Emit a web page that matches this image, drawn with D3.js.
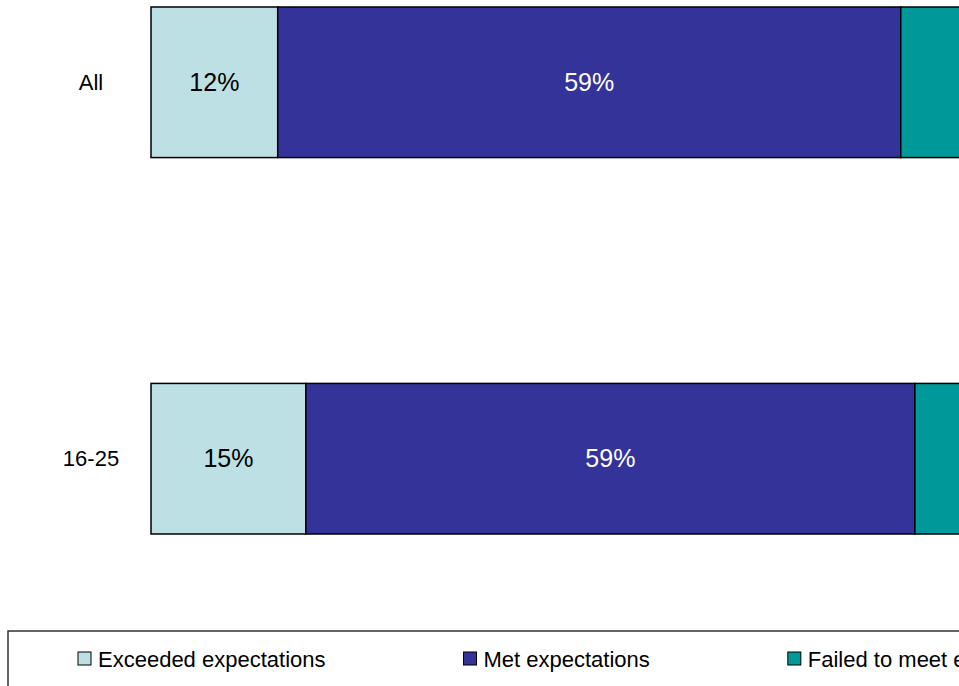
<!DOCTYPE html>
<html>
<head>
<meta charset="utf-8">
<script src="https://cdn.jsdelivr.net/npm/d3@7/dist/d3.min.js"></script>
<style>
  body { margin: 0; background: #fff; }
  svg { display: block; font-family: "Liberation Sans", Arial, sans-serif; }
</style>
</head>
<body>
<div id="chart"></div>
<script>
// data
var categories = ["All", "16-25"];
var seriesNames = ["Exceeded expectations", "Met expectations", "Failed to meet expectations"];
var exceeded = [12, 15];
var met = [59, 59];
var failed = [29, 28.3];
var colors = ["#bce0e4", "#333399", "#009999"];
var labelColors = ["#000", "#fff", "#fff"];

var width = 959, height = 686;

var svg = d3.select("#chart").append("svg")
    .attr("width", width)
    .attr("height", height);

// rows for stacking, each bar is 100% of its own total
var rows = categories.map(function(c, i){
    var vals = [exceeded[i], met[i], failed[i]];
    var total = d3.sum(vals);
    var row = { cat: c, raw: vals };
    seriesNames.forEach(function(s, j){ row[s] = vals[j] / total * 100; });
    return row;
});

var stack = d3.stack().keys(seriesNames);
var stacked = stack(rows);

var x = d3.scaleLinear()
    .domain([0, 100])
    .range([151, 1207]);

var y = d3.scaleBand()
    .domain(categories)
    .range([7, 534])
    .paddingInner(0.6)
    .paddingOuter(0);

// bars
var groups = svg.selectAll(".series")
    .data(stacked)
    .enter().append("g")
    .attr("class", "series")
    .attr("fill", (d, i) => colors[i]);

groups.selectAll("rect")
    .data(d => d)
    .enter().append("rect")
    .attr("x", d => x(d[0]))
    .attr("y", d => y(d.data.cat))
    .attr("width", d => x(d[1]) - x(d[0]))
    .attr("height", y.bandwidth())
    .attr("stroke", "#000")
    .attr("stroke-width", 1.5);

// value labels
groups.each(function(s, i){
    d3.select(this).selectAll(".val")
        .data(s)
        .enter().append("text")
        .attr("class", "val")
        .attr("x", d => (x(d[0]) + x(d[1])) / 2)
        .attr("y", d => y(d.data.cat) + y.bandwidth() / 2)
        .attr("dy", "0.35em")
        .attr("text-anchor", "middle")
        .attr("font-size", "25px")
        .attr("fill", labelColors[i])
        .text(d => Math.round(d.data.raw[i]) + "%");
});

// category labels
svg.selectAll(".cat")
    .data(categories)
    .enter().append("text")
    .attr("class", "cat")
    .attr("x", 91)
    .attr("y", d => y(d) + y.bandwidth() / 2)
    .attr("dy", "0.35em")
    .attr("text-anchor", "middle")
    .attr("font-size", "22px")
    .attr("fill", "#000")
    .text(d => d);

// legend
svg.append("rect")
    .attr("x", 8)
    .attr("y", 631)
    .attr("width", 1200)
    .attr("height", 100)
    .attr("fill", "#fff")
    .attr("stroke", "#333")
    .attr("stroke-width", 1.5);

var lx = 78;
seriesNames.forEach(function(s, i){
    var g = svg.append("g").attr("transform", "translate(" + lx + ",0)");
    g.append("rect")
        .attr("x", 0)
        .attr("y", 652)
        .attr("width", 13)
        .attr("height", 13)
        .attr("fill", colors[i])
        .attr("stroke", "#000")
        .attr("stroke-width", 1);
    var t = g.append("text")
        .attr("x", 20)
        .attr("y", 667)
        .attr("font-size", "22px")
        .attr("fill", "#000")
        .text(s);
    lx += 20 + t.node().getComputedTextLength() + 138;
});
</script>
</body>
</html>
